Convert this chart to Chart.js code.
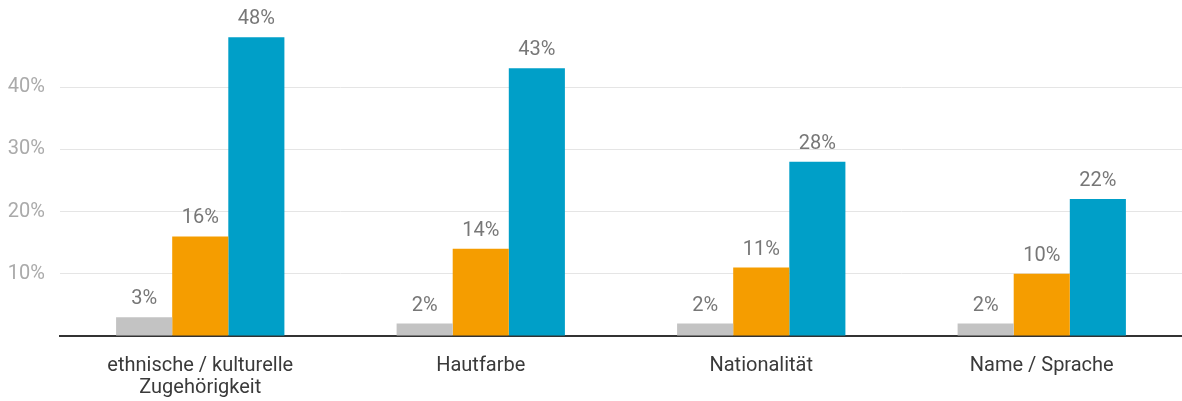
<!DOCTYPE html>
<html>
<head>
<meta charset="utf-8">
<script src="https://cdn.jsdelivr.net/npm/chart.js@4/dist/chart.umd.min.js"></script>
<style>
  body { margin: 0; background: #fff; }
  #wrap { width: 1182px; height: 401px; }
</style>
</head>
<body>
<div id="wrap"><canvas id="chart"></canvas></div>
<script>
const categories = [["ethnische / kulturelle", "Zugehörigkeit"], "Hautfarbe", "Nationalität", "Name / Sprache"];
const greyValues = [3, 2, 2, 2];
const orangeValues = [16, 14, 11, 10];
const blueValues = [48, 43, 28, 22];
const yTicks = [0, 10, 20, 30, 40];

// value labels above each bar
const barLabels = {
  id: "barLabels",
  afterDatasetsDraw(chart) {
    const ctx = chart.ctx;
    ctx.save();
    ctx.font = "20px Roboto";
    ctx.fillStyle = "#777777";
    ctx.textAlign = "center";
    ctx.textBaseline = "alphabetic";
    chart.data.datasets.forEach((ds, i) => {
      chart.getDatasetMeta(i).data.forEach((bar, j) => {
        ctx.fillText(ds.data[j] + "%", bar.x, bar.y - 13);
      });
    });
    ctx.restore();
  }
};

const ctx = document.getElementById("chart");
const chart = new Chart(ctx, {
  type: "bar",
  data: {
    labels: categories,
    datasets: [
      { label: "a", data: greyValues, backgroundColor: "#c3c3c3" },
      { label: "b", data: orangeValues, backgroundColor: "#f59d00" },
      { label: "c", data: blueValues, backgroundColor: "#009fc8" }
    ]
  },
  options: {
    responsive: true,
    maintainAspectRatio: false,
    animation: false,
    layout: { padding: { top: 31, right: -2, left: 8, bottom: 0 } },
    datasets: { bar: { categoryPercentage: 0.6, barPercentage: 1 } },
    plugins: { legend: { display: false }, tooltip: { enabled: false } },
    scales: {
      x: {
        grid: { display: false, drawTicks: false },
        border: { display: true, color: "#333", width: 2 },
        ticks: {
          color: "#3a3a3a",
          font: { family: "Roboto", size: 20, lineHeight: 1.1 },
          padding: 19,
          maxRotation: 0
        },
        afterFit(scale) {
          scale.height = 65;
          scale.paddingLeft = 0;
          scale.paddingRight = 0;
        }
      },
      y: {
        min: 0,
        max: 49,
        afterBuildTicks(scale) {
          scale.ticks = yTicks.map(v => ({ value: v }));
        },
        afterFit(scale) {
          scale.width = 52;
        },
        grid: { color: "#e5e5e5", lineWidth: 1, drawTicks: false },
        border: { display: false },
        ticks: {
          color: "#aaaaaa",
          font: { family: "Roboto", size: 20 },
          padding: 15,
          callback: v => (v === 0 ? "" : v + "%")
        }
      }
    }
  },
  plugins: [barLabels]
});
</script>
</body>
</html>
